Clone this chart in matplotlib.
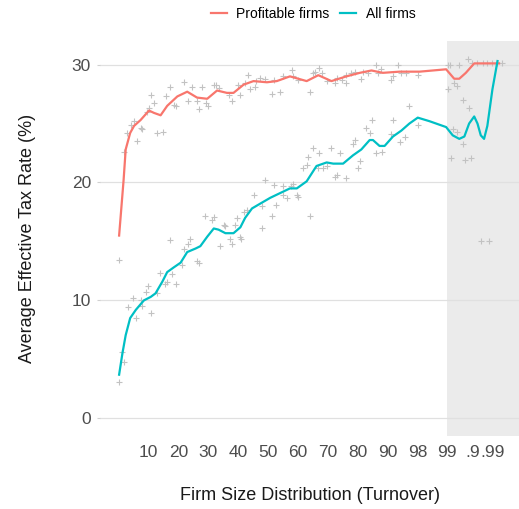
import matplotlib
matplotlib.use("Agg")
import matplotlib.pyplot as plt

plt.rcParams['font.family'] = ['Liberation Sans', 'DejaVu Sans']

# x is the position along the size distribution (bins in display order)
tick_pos = [10, 20, 30, 40, 50, 60, 70, 80, 90, 100, 110, 118.5, 125.3]
tick_labels = ['10', '20', '30', '40', '50', '60', '70', '80', '90', '98', '99', '.9', '.99']
top_start = 109.9   # shaded region: top 1%

# smoothed series
profit_x = [0.1, 1.6, 2.3, 3.8, 5.1, 7.3, 10.1, 11.8, 14, 16.2, 19.6, 22.9, 26.2, 29.6,
            32.9, 36.2, 38.4, 41.8, 45.1, 49.6, 52.9, 57.3, 62.9, 66.8, 71.2, 76.2, 80.7,
            84.6, 88.4, 94, 100.7, 109.6, 112.3, 114, 116.2, 119, 121.8, 126.8, 127.3]
profit_y = [15.5, 20.2, 22.8, 24.2, 24.8, 25.3, 26.1, 25.9, 25.7, 26.5, 27.3, 27.7, 27.2, 27.1,
            27.8, 27.6, 27.6, 28.3, 28.6, 28.5, 28.6, 29.0, 28.6, 29.1, 28.6, 29.0, 29.3,
            29.5, 29.3, 29.4, 29.4, 29.6, 28.8, 28.8, 29.3, 30.1, 30.1, 30.1, 30.1]

all_x = [0.1, 1.2, 2.3, 3.8, 5.7, 8.4, 10.7, 12.3, 14.6, 16.2, 18.4, 20.7, 22.9, 25.7, 27.3,
         29.6, 31.8, 33.4, 35.7, 38.4, 40.7, 42.3, 44.6, 47.3, 50.7, 54, 57.3, 59.6, 62.9,
         66.2, 69.6, 71.8, 75.1, 78.4, 81.2, 84, 85.1, 87.3, 89, 91.8, 94.6, 97.3, 100.1,
         104, 109.6, 111.8, 114, 115.7, 117.3, 119, 120.1, 121.2, 122.3, 123.4, 125.1, 126.8]
all_y = [3.7, 5.5, 7.05, 8.5, 9.2, 10.0, 10.3, 10.6, 11.6, 12.4, 12.8, 13.2, 14.1, 14.4, 14.6,
         15.4, 16.1, 16.0, 15.7, 15.7, 16.2, 17.0, 17.8, 18.2, 18.7, 19.1, 19.5, 19.5, 20.1,
         21.4, 21.7, 21.6, 21.6, 22.3, 22.8, 23.6, 23.6, 23.1, 23.1, 23.9, 24.4, 25.0, 25.5,
         25.2, 24.7, 24.0, 23.7, 23.9, 25.0, 25.6, 25.0, 24.0, 23.7, 24.8, 27.9, 30.3]

# raw bin values (grey crosses)
raw_profit_x = [-0.1, 1.8, 2.9, 4, 5.1, 6, 7.3, 7.9, 9.6, 10.1, 10.9, 11.8, 12.9, 14.9, 15.7,
                17.1, 18.4, 19, 21.8, 23.1, 24.6, 26.2, 27, 27.9, 29.3, 29.8, 31.8, 32.7, 33.4,
                36.8, 37.9, 39.8, 40.7, 42.3, 43.1, 44, 45.7, 46, 47.3, 49, 51.2, 51.8, 54,
                55.1, 57.9, 58.2, 60.1, 64, 64.9, 65.7, 67.1, 67.9, 69.8, 72.3, 72.9, 74.6, 76,
                76.2, 77.9, 79, 81.2, 81.8, 83.4, 86, 86.8, 87.9, 91.2, 91.8, 93.4, 94.6, 96.2,
                100.1, 110.1, 111, 110.1, 112.3, 113.1, 114, 116.8, 115.1, 117.1, 118.4, 120.1,
                121.8, 123.4, 125.1, 126.8, 128.4]
raw_profit_y = [13.4, 22.6, 24.2, 24.9, 25.2, 23.5, 24.6, 24.5, 26.0, 26.3, 27.4, 26.7, 24.2, 24.3, 27.3,
                28.1, 26.6, 26.5, 28.5, 26.9, 28.1, 26.9, 26.2, 28.1, 26.7, 26.5, 28.3, 28.3, 28.0,
                27.4, 26.9, 28.3, 27.4, 28.4, 29.1, 27.9, 28.1, 28.6, 28.9, 28.8, 27.5, 28.7, 27.7,
                29.0, 29.5, 29.0, 28.7, 27.7, 29.3, 29.4, 29.7, 29.3, 28.6, 28.4, 28.9, 28.7, 28.4,
                29.1, 29.3, 29.4, 28.8, 29.4, 29.3, 30.0, 29.3, 29.6, 28.7, 29.0, 30.0, 29.3, 29.3,
                29.1, 30.0, 30.0, 27.9, 28.4, 28.2, 30.0, 30.5, 27.0, 26.3, 30.1, 30.1,
                30.1, 30.1, 30.1, 30.1, 30.1]

raw_all_x = [-0.1, 0.9, 1.8, 3.1, 4.9, 5.7, 7.3, 7.9, 9, 9.9, 10.9, 12.9, 13.9, 15.3, 16,
             17.1, 17.9, 19, 21, 21.8, 23.1, 24, 26.2, 27, 29, 31.2, 31.8, 34, 35.1, 35.7,
             37.1, 37.9, 39, 39.6, 40.7, 41, 41.8, 42.9, 45.1, 47.9, 47.9, 49, 51.2, 51.8,
             52.7, 55.1, 55.1, 56.2, 57.6, 58.4, 59.6, 60.1, 61.8, 62.9, 63.4, 64, 65.1,
             66.8, 67.1, 68.4, 69.6, 70.9, 72.3, 73.1, 74, 76, 78.4, 79, 80.1, 80.7, 82.9,
             84, 84.9, 86.2, 88.2, 91.2, 91.8, 94.2, 95.7, 97.1, 100.1, 111.2, 111.8, 113.1,
             115.1, 116, 117.9, 121.2, 124]
raw_all_y = [3.1, 5.6, 4.8, 9.4, 10.2, 8.5, 10.0, 9.5, 10.7, 11.2, 8.9, 10.6, 12.3, 11.4, 11.6,
             15.1, 12.2, 11.4, 13.0, 14.4, 14.8, 15.2, 13.3, 13.2, 17.2, 16.8, 17.1, 14.6, 16.4, 16.3,
             15.2, 14.8, 16.4, 17.0, 15.4, 15.2, 17.5, 17.7, 18.9, 18.0, 16.1, 20.2, 17.2, 19.8,
             18.1, 19.7, 18.9, 18.7, 19.7, 19.9, 18.9, 18.8, 21.2, 21.5, 22.2, 17.2, 22.9,
             21.2, 22.5, 21.2, 21.4, 22.9, 20.5, 20.6, 22.5, 20.4, 23.3, 23.6, 21.2, 21.8, 24.6,
             24.2, 25.3, 22.5, 22.6, 24.1, 25.3, 23.4, 23.9, 26.5, 24.9, 22.1, 24.5, 24.3,
             23.3, 21.9, 22.1, 15.0, 15.0]

RED = '#F8766D'
TEAL = '#00BFC4'

fig = plt.figure(figsize=(5.19, 5.09), dpi=100)
ax = fig.add_axes([100 / 519, 1 - 436 / 509, 419 / 519, 395 / 509])

ax.axvspan(top_start, 140, color='#EBEBEB', lw=0, zorder=0.2)
ax.set_axisbelow(True)
ax.grid(axis='y', color='#E0E0E0', lw=0.9)

ax.plot(raw_profit_x, raw_profit_y, '+', color='#C2C2C2', ms=5, mew=0.8, zorder=2)
ax.plot(raw_all_x, raw_all_y, '+', color='#C2C2C2', ms=5, mew=0.8, zorder=2)
ax.plot(profit_x, profit_y, color=RED, lw=1.6, label='Profitable firms', zorder=3)
ax.plot(all_x, all_y, color=TEAL, lw=1.6, label='All firms', zorder=3)

ax.set_xlim(-6.3, 134)
ax.set_ylim(-1.5, 32.0)
ax.set_yticks([0, 10, 20, 30])
ax.set_xticks(tick_pos)
ax.set_xticklabels(tick_labels)
ax.tick_params(axis='x', length=0, pad=6.5, labelsize=12.5, labelcolor='#4D4D4D')
ax.tick_params(axis='y', length=2.5, width=0.8, color='#D0D0D0', pad=4,
               labelsize=12.5, labelcolor='#4D4D4D')
for s in ax.spines.values():
    s.set_visible(False)

ax.set_xlabel('Firm Size Distribution (Turnover)', fontsize=13, color='#1A1A1A')
ax.set_ylabel('Average Effective Tax Rate (%)', fontsize=13, color='#1A1A1A')
ax.xaxis.set_label_coords(0.5, -0.13)
ax.yaxis.set_label_coords(-0.152, 0.5)

fig.legend(loc='center', bbox_to_anchor=(313 / 519, 1 - 14 / 509), ncol=2, frameon=False,
           fontsize=10, handlelength=1.15, handletextpad=0.7, columnspacing=0.75)

fig.savefig('out.png', dpi=100)
